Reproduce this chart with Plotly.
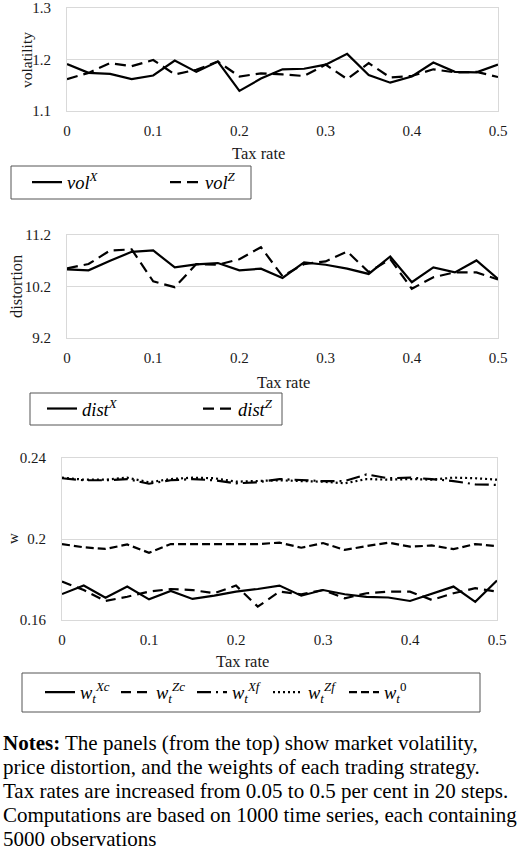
import plotly.graph_objects as go

tax = [0, 0.025, 0.05, 0.075, 0.1, 0.125, 0.15, 0.175, 0.2, 0.225, 0.25,
       0.275, 0.3, 0.325, 0.35, 0.375, 0.4, 0.425, 0.45, 0.475, 0.5]

vol_x = [1.191, 1.174, 1.172, 1.162, 1.169, 1.198, 1.176, 1.196, 1.139, 1.163, 1.181,
         1.182, 1.190, 1.211, 1.170, 1.155, 1.167, 1.194, 1.176, 1.175, 1.190]
vol_z = [1.162, 1.174, 1.193, 1.187, 1.199, 1.171, 1.180, 1.196, 1.167, 1.173, 1.171,
         1.168, 1.190, 1.162, 1.193, 1.165, 1.168, 1.181, 1.175, 1.176, 1.166]

dist_x = [10.533, 10.514, 10.70, 10.873, 10.90, 10.571, 10.63, 10.655, 10.514, 10.546, 10.367,
          10.668, 10.623, 10.546, 10.444, 10.783, 10.283, 10.571, 10.475, 10.706, 10.348]
dist_z = [10.553, 10.636, 10.90, 10.92, 10.30, 10.187, 10.636, 10.623, 10.73, 10.963, 10.40,
          10.636, 10.687, 10.88, 10.48, 10.73, 10.156, 10.38, 10.475, 10.475, 10.335]

w_xc = [0.1728, 0.1770, 0.1710, 0.1765, 0.1702, 0.1743, 0.1704, 0.1720, 0.1740, 0.1753, 0.1770,
        0.1720, 0.1748, 0.1727, 0.1714, 0.1711, 0.1694, 0.1728, 0.1765, 0.1690, 0.1795]
w_zc = [0.1790, 0.1748, 0.1694, 0.1715, 0.1740, 0.1753, 0.1748, 0.1732, 0.1770, 0.1666, 0.1740,
        0.1727, 0.1748, 0.1707, 0.1732, 0.1740, 0.1740, 0.1699, 0.1732, 0.1757, 0.1740]
w_xf = [0.2300, 0.2290, 0.2290, 0.2296, 0.2273, 0.2290, 0.2296, 0.2290, 0.2275, 0.2280, 0.2296,
        0.2290, 0.2286, 0.2286, 0.2319, 0.2300, 0.2303, 0.2296, 0.2286, 0.2270, 0.2267]
w_zf = [0.2303, 0.2293, 0.2293, 0.2303, 0.2280, 0.2296, 0.2303, 0.2300, 0.2283, 0.2286, 0.2290,
        0.2286, 0.2283, 0.2275, 0.2296, 0.2293, 0.2296, 0.2293, 0.2303, 0.2300, 0.2293]
w_0 = [0.1975, 0.1959, 0.1951, 0.1973, 0.1932, 0.1975, 0.1975, 0.1975, 0.1975, 0.1975, 0.1982,
       0.1957, 0.1980, 0.1946, 0.1965, 0.1982, 0.1962, 0.1968, 0.1950, 0.1975, 0.1965]

x_ticks = [0, 0.1, 0.2, 0.3, 0.4, 0.5]
x_ticklabels = ["0", "0.1", "0.2", "0.3", "0.4", "0.5"]

notes_lines = [
    "<b>Notes:</b> The panels (from the top) show market volatility,",
    "price distortion, and the weights of each trading strategy.",
    "Tax rates are increased from 0.05 to 0.5 per cent in 20 steps.",
    "Computations are based on 1000 time series, each containing",
    "5000 observations",
]

W, H = 520, 866
SERIF = "Liberation Serif"
GRID = "#d9d9d9"
BLACK = "#000000"
TXT = "#1a1a1a"


def px_x(p):
    return p / W


def px_y(p):
    return 1 - p / H


fig = go.Figure()

lw = 2.2
fig.add_trace(go.Scatter(x=tax, y=vol_x, mode="lines", xaxis="x", yaxis="y",
                         line=dict(color=BLACK, width=lw),
                         name="<i>vol</i><sup><i>X</i></sup>", legend="legend"))
fig.add_trace(go.Scatter(x=tax, y=vol_z, mode="lines", xaxis="x", yaxis="y",
                         line=dict(color=BLACK, width=lw, dash="11px,6px"),
                         name="<i>vol</i><sup><i>Z</i></sup>", legend="legend"))

fig.add_trace(go.Scatter(x=tax, y=dist_x, mode="lines", xaxis="x2", yaxis="y2",
                         line=dict(color=BLACK, width=lw),
                         name="<i>dist</i><sup><i>X</i></sup>", legend="legend2"))
fig.add_trace(go.Scatter(x=tax, y=dist_z, mode="lines", xaxis="x2", yaxis="y2",
                         line=dict(color=BLACK, width=lw, dash="11px,6px"),
                         name="<i>dist</i><sup><i>Z</i></sup>", legend="legend2"))

fig.add_trace(go.Scatter(x=tax, y=w_xc, mode="lines", xaxis="x3", yaxis="y3",
                         line=dict(color=BLACK, width=lw),
                         name="<i>w</i><sub><i>t</i></sub><sup><i>Xc</i></sup>", legend="legend3"))
fig.add_trace(go.Scatter(x=tax, y=w_zc, mode="lines", xaxis="x3", yaxis="y3",
                         line=dict(color=BLACK, width=lw, dash="10px,6px"),
                         name="<i>w</i><sub><i>t</i></sub><sup><i>Zc</i></sup>", legend="legend3"))
fig.add_trace(go.Scatter(x=tax, y=w_xf, mode="lines", xaxis="x3", yaxis="y3",
                         line=dict(color=BLACK, width=lw, dash="14px,5px,2px,5px"),
                         name="<i>w</i><sub><i>t</i></sub><sup><i>Xf</i></sup>", legend="legend3"))
fig.add_trace(go.Scatter(x=tax, y=w_zf, mode="lines", xaxis="x3", yaxis="y3",
                         line=dict(color=BLACK, width=lw, dash="2px,3px"),
                         name="<i>w</i><sub><i>t</i></sub><sup><i>Zf</i></sup>", legend="legend3"))
fig.add_trace(go.Scatter(x=tax, y=w_0, mode="lines", xaxis="x3", yaxis="y3",
                         line=dict(color=BLACK, width=lw, dash="8px,4px"),
                         name="<i>w</i><sub><i>t</i></sub><sup>0</sup>", legend="legend3"))

tickfont = dict(family=SERIF, size=15, color=TXT)


def xaxis(domain, anchor):
    return dict(domain=domain, anchor=anchor, range=[0, 0.5], tickvals=x_ticks,
                ticktext=x_ticklabels, showgrid=False, zeroline=False,
                showline=True, linecolor=GRID, linewidth=1, mirror=True,
                ticks="outside", ticklen=6, tickcolor="rgba(0,0,0,0)",
                tickfont=tickfont, fixedrange=True, automargin=False)


def yaxis(domain, anchor, rng, dtick, fmt):
    return dict(domain=domain, anchor=anchor, range=rng, dtick=dtick, tick0=rng[0],
                tickformat=fmt, showgrid=True, gridcolor=GRID, gridwidth=1,
                zeroline=False, showline=True, linecolor=GRID, linewidth=1,
                mirror=True, ticks="outside", ticklen=12, tickcolor="rgba(0,0,0,0)",
                tickfont=tickfont, fixedrange=True, automargin=False)


top_dom_x = [px_x(67), px_x(498)]
top_dom_y = [px_y(111), px_y(8)]
mid_dom_y = [px_y(338), px_y(235)]
bot_dom_x = [px_x(62), px_x(497)]
bot_dom_y = [px_y(620), px_y(458)]

legend_common = dict(orientation="h", borderwidth=0, bgcolor="rgba(0,0,0,0)",
                     font=dict(family=SERIF, size=18.5, color=BLACK),
                     xanchor="left", yanchor="middle", itemclick=False,
                     itemdoubleclick=False, tracegroupgap=0, itemwidth=30,
                     entrywidthmode="pixels")

fig.update_layout(
    width=W, height=H,
    margin=dict(l=0, r=0, t=0, b=0, autoexpand=False),
    paper_bgcolor="white", plot_bgcolor="white",
    font=dict(family=SERIF, color=BLACK),
    showlegend=True,
    xaxis=xaxis(top_dom_x, "y"),
    yaxis=yaxis(top_dom_y, "x", [1.1, 1.3], 0.1, ".1f"),
    xaxis2=xaxis(top_dom_x, "y2"),
    yaxis2=yaxis(mid_dom_y, "x2", [9.2, 11.2], 1, ".1f"),
    xaxis3=xaxis(bot_dom_x, "y3"),
    yaxis3=yaxis(bot_dom_y, "x3", [0.16, 0.24], 0.04, ""),
    legend=dict(legend_common, x=px_x(27), y=px_y(182.5), entrywidth=93),
    legend2=dict(legend_common, x=px_x(42), y=px_y(409), entrywidth=111),
    legend3=dict(legend_common, x=px_x(40), y=px_y(692.5), entrywidth=31),
)

frames = [(11, 166, 251, 199), (30, 393, 282, 425), (22, 673, 480, 712)]
fig.update_layout(shapes=[
    dict(type="rect", xref="paper", yref="paper", x0=px_x(a), x1=px_x(c),
         y0=px_y(d), y1=px_y(b), line=dict(color="#555555", width=1),
         fillcolor="rgba(0,0,0,0)", layer="below")
    for a, b, c, d in frames
])

annots = []
for cx, cy in [(258, 153), (283, 382), (242, 661)]:
    annots.append(dict(text="Tax rate", x=px_x(cx), y=px_y(cy), xref="paper", yref="paper",
                       xanchor="center", yanchor="middle", showarrow=False,
                       font=dict(family=SERIF, size=16.5, color=TXT)))
for txt, cx, cy, fs in [("volatility", 26, 60, 15.5), ("distortion", 16, 287, 16.5), ("w", 13, 539, 15)]:
    annots.append(dict(text=txt, x=px_x(cx), y=px_y(cy), xref="paper", yref="paper",
                       xanchor="center", yanchor="middle", showarrow=False, textangle=-90,
                       font=dict(family=SERIF, size=fs, color=TXT)))
for i, line in enumerate(notes_lines):
    annots.append(dict(text=line, x=px_x(1), y=px_y(743 + 24 * i), xref="paper", yref="paper",
                       xanchor="left", yanchor="middle", showarrow=False, align="left",
                       font=dict(family=SERIF, size=21, color=BLACK)))
fig.update_layout(annotations=annots)

fig.write_html("out.html", config=dict(displayModeBar=False))
